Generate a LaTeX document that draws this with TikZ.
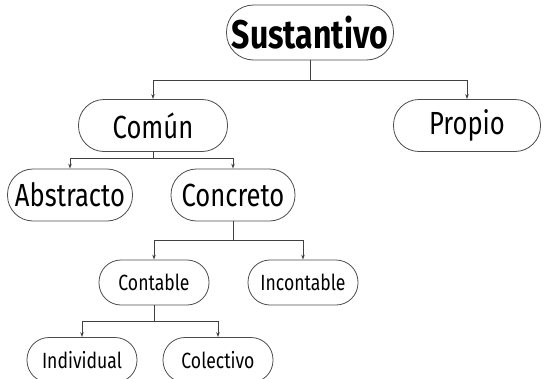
\documentclass[tikz,border=0pt]{standalone}
\usepackage{fontspec}
\setmainfont[FakeStretch=0.8]{Fira Sans}
\usepackage{tikz}
\usetikzlibrary{arrows.meta}

\begin{document}
\begin{tikzpicture}[x=1pt,y=1pt]
\tikzstyle{every node}+=[inner sep=0pt]
\tikzstyle{caja}=[draw=black!70, line width=0.8pt, rectangle, text=black]
\tikzstyle{grande}=[caja, minimum width=167pt, minimum height=55pt, rounded corners=27pt, font=\fontsize{40}{42}\selectfont\bfseries]
\tikzstyle{media}=[caja, minimum height=52pt, rounded corners=25.5pt, font=\fontsize{32}{34}\selectfont]
\tikzstyle{chica}=[caja, minimum width=110pt, minimum height=45pt, rounded corners=22pt, font=\fontsize{22}{24}\selectfont]
\tikzstyle{linea}=[draw=black!75, line width=0.8pt]
\tikzstyle{flecha}=[linea, -{Stealth[length=5pt,width=3.5pt]}]
\useasboundingbox (0,0) rectangle (544,-378);
\clip (0,0) rectangle (544,-378);
% niveles
\node [grande] (sus) at (310,-32.5) {Sustantivo};
\node [media, minimum width=149pt] (comun) at (153,-125.5) {Común};
\node [media, minimum width=147pt] (propio) at (467,-125.5) {Propio};
\node [media, minimum width=125pt] (abstracto) at (70,-195) {Abstracto};
\node [media, minimum width=124pt] (concreto) at (233,-195) {Concreto};
\node [chica] (contable) at (154,-282.5) {Contable};
\node [chica] (incontable) at (303,-282.5) {Incontable};
\node [chica] (individual) at (82,-360) {Individual};
\node [chica] (colectivo) at (218,-360) {Colectivo};
% uniones
\coordinate (j1) at (310,-80);
\coordinate (j2) at (153,-158);
\coordinate (j3) at (233,-240);
\coordinate (j4) at (154,-321);
\draw [linea] (sus.south) -- (j1);
\draw [flecha] (j1) -| (comun.north);
\draw [flecha] (j1) -| (propio.north);
\draw [linea] (comun.south) -- (j2);
\draw [flecha] (j2) -| (abstracto.north);
\draw [flecha] (j2) -| (concreto.north);
\draw [linea] (concreto.south) -- (j3);
\draw [flecha] (j3) -| (contable.north);
\draw [flecha] (j3) -| (incontable.north);
\draw [linea] (contable.south) -- (j4);
\draw [flecha] (j4) -| (individual.north);
\draw [flecha] (j4) -| (colectivo.north);
\end{tikzpicture}
\end{document}
